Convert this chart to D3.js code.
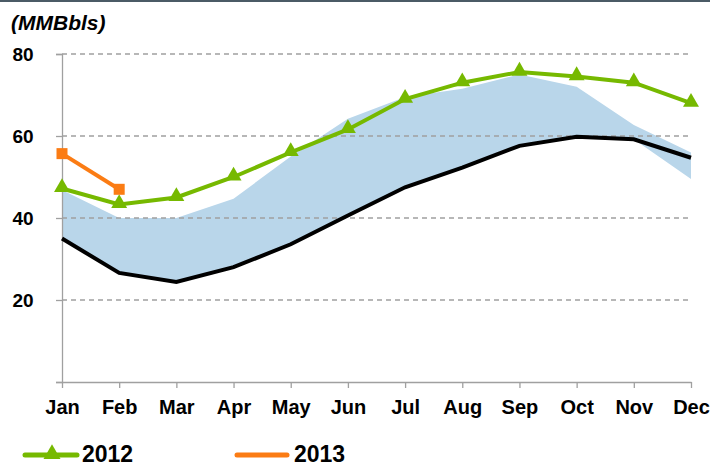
<!DOCTYPE html>
<html>
<head>
<meta charset="utf-8">
<script src="https://cdn.jsdelivr.net/npm/d3@7"></script>
<style>
  body { margin: 0; background: #fff; }
  svg { display: block; font-family: Arial, "Liberation Sans", sans-serif; }
</style>
</head>
<body>
<svg id="chart" width="710" height="466"></svg>
<script>
let w = 710
let h = 466

let months = ["Jan", "Feb", "Mar", "Apr", "May", "Jun", "Jul", "Aug", "Sep", "Oct", "Nov", "Dec"]
let yTicks = [0, 20, 40, 60, 80]

// 5 year range band
let rangeLow = [35, 26.6, 24.4, 28, 33.6, 40.6, 47.5, 52.3, 57.6, 59.8, 59.2, 49.5]
let rangeHigh = [46.8, 40, 40, 44.7, 55, 64.2, 69.5, 71.5, 75, 72, 62.7, 56]

let avgLine = [35, 26.6, 24.4, 28, 33.6, 40.6, 47.5, 52.3, 57.6, 59.8, 59.2, 54.7]
let s2012 = [47.2, 43.3, 45, 50, 56, 61.6, 69, 73, 75.6, 74.5, 73, 68]
let s2013 = [55.7, 47]

let svg = d3.select('#chart')

let x = d3.scalePoint().domain(months).range([62, 691])
let y = d3.scaleLinear().domain([0, 80]).range([382, 54])

// top border
svg.append('rect').attr('x', 0).attr('y', 0).attr('width', w).attr('height', 2).attr('fill', '#4b5b66')

svg.append('text')
  .attr('x', 11).attr('y', 30)
  .attr('font-size', 21).attr('font-weight', 'bold').attr('font-style', 'italic')
  .text('(MMBbls)')

// band
let bandArea = d3.area()
  .x((d, i) => x(months[i]))
  .y0((d, i) => y(rangeLow[i]))
  .y1((d) => y(d))

svg.append('path')
  .datum(rangeHigh)
  .attr('d', bandArea)
  .attr('fill', '#b9d6ea')

// grid
svg.selectAll('.grid')
  .data(yTicks.filter(d => d > 0))
  .join('line')
  .attr('class', 'grid')
  .attr('x1', 62).attr('x2', 691)
  .attr('y1', d => y(d)).attr('y2', d => y(d))
  .attr('stroke', '#a0a0a0').attr('stroke-width', 1.3)
  .attr('stroke-dasharray', '5,4')

// y axis
let yAxis = d3.axisLeft(y).tickValues(yTicks).tickSize(6).tickFormat(d => d === 0 ? '' : d)
let gy = svg.append('g').attr('transform', 'translate(62,0)').call(yAxis)
gy.select('.domain').attr('stroke', '#a0a0a0').attr('stroke-width', 1.3)
gy.selectAll('.tick line').attr('stroke', '#a0a0a0').attr('stroke-width', 1.3)
gy.selectAll('.tick text')
  .attr('x', -39).attr('text-anchor', 'middle')
  .attr('font-size', 19).attr('font-weight', 'bold').attr('fill', '#000')
  .attr('font-family', 'Arial, "Liberation Sans", sans-serif')

// x axis
let xAxis = d3.axisBottom(x).tickSize(6).tickSizeOuter(0)
let gx = svg.append('g').attr('transform', 'translate(0,382)').call(xAxis)
gx.select('.domain').attr('stroke', '#a0a0a0').attr('stroke-width', 1.3)
gx.selectAll('.tick line').attr('stroke', '#a0a0a0').attr('stroke-width', 1.3)
gx.selectAll('.tick text')
  .attr('y', 18)
  .attr('font-size', 20).attr('font-weight', 'bold').attr('fill', '#000')
  .attr('font-family', 'Arial, "Liberation Sans", sans-serif')

let line = d3.line().x((d, i) => x(months[i])).y(d => y(d))

svg.append('path').datum(avgLine).attr('d', line)
  .attr('fill', 'none').attr('stroke', '#000').attr('stroke-width', 4)

svg.append('path').datum(s2012).attr('d', line)
  .attr('fill', 'none').attr('stroke', '#76b900').attr('stroke-width', 4)

let tri = d3.symbol().type(d3.symbolTriangle).size(110)
svg.selectAll('.tri')
  .data(s2012)
  .join('path')
  .attr('class', 'tri')
  .attr('d', tri)
  .attr('transform', (d, i) => 'translate(' + x(months[i]) + ',' + (y(d) - 1) + ')')
  .attr('fill', '#76b900')

svg.append('path').datum(s2013).attr('d', line)
  .attr('fill', 'none').attr('stroke', '#fb7c14').attr('stroke-width', 4)

svg.selectAll('.sq')
  .data(s2013)
  .join('rect')
  .attr('class', 'sq')
  .attr('x', (d, i) => x(months[i]) - 5.5)
  .attr('y', d => y(d) - 5.5)
  .attr('width', 11).attr('height', 11)
  .attr('fill', '#fb7c14')

// legend
let legend = svg.append('g')
legend.append('line').attr('x1', 25).attr('x2', 77).attr('y1', 455).attr('y2', 455)
  .attr('stroke', '#76b900').attr('stroke-width', 5).attr('stroke-linecap', 'round')
legend.append('path').attr('d', d3.symbol().type(d3.symbolTriangle).size(125))
  .attr('transform', 'translate(52,454)').attr('fill', '#76b900')
legend.append('text').attr('x', 82).attr('y', 462)
  .attr('font-size', 23).attr('font-weight', 'bold').text('2012')

legend.append('line').attr('x1', 237).attr('x2', 287).attr('y1', 455).attr('y2', 455)
  .attr('stroke', '#fb7c14').attr('stroke-width', 5).attr('stroke-linecap', 'round')
legend.append('text').attr('x', 294).attr('y', 462)
  .attr('font-size', 23).attr('font-weight', 'bold').text('2013')
</script>
</body>
</html>
